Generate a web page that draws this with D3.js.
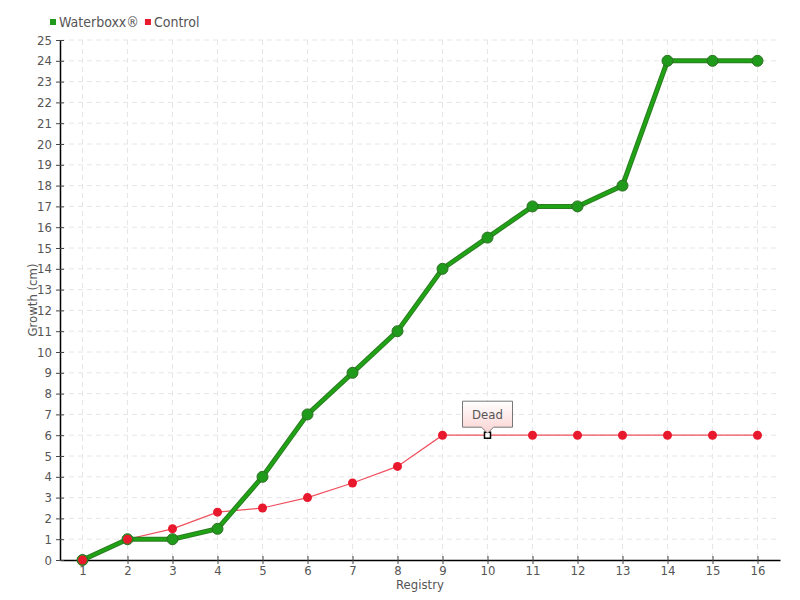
<!DOCTYPE html>
<html>
<head>
<meta charset="utf-8">
<script src="https://cdn.jsdelivr.net/npm/d3@7"></script>
<style>
  body { margin: 0; background: #fff; }
  text { font-family: "DejaVu Sans Condensed", "DejaVu Sans", sans-serif; font-stretch: condensed; fill: #555; }
</style>
</head>
<body>
<svg id="chart" width="800" height="600"></svg>
<script>
// data
var registry = [1, 2, 3, 4, 5, 6, 7, 8, 9, 10, 11, 12, 13, 14, 15, 16]
var waterboxx = [0, 1, 1, 1.5, 4, 7, 9, 11, 14, 15.5, 17, 17, 18, 24, 24, 24]
var control = [0, 1, 1.5, 2.3, 2.5, 3, 3.7, 4.5, 6, 6, 6, 6, 6, 6, 6, 6]
var yTicks = d3.range(0, 26)
var deadAt = 10

var svg = d3.select("#chart"),
    margin = { top: 40, left: 60, bottom: 40, right: 20 },
    width = +svg.attr("width"),
    height = +svg.attr("height");

var x = d3.scaleLinear()
    .domain([0.5, 16.5])
    .range([margin.left, width - margin.right])
var y = d3.scaleLinear()
    .domain([0, 25])
    .range([height - margin.bottom, margin.top])

// gridlines
svg.append("g").selectAll("line")
    .data(yTicks.slice(1))
    .enter().append("line")
    .attr("x1", margin.left).attr("x2", width - margin.right)
    .attr("y1", d => y(d)).attr("y2", d => y(d))
    .attr("stroke", "#e6e6e6").attr("stroke-dasharray", "5,4")
svg.append("g").selectAll("line")
    .data(registry)
    .enter().append("line")
    .attr("x1", d => x(d)).attr("x2", d => x(d))
    .attr("y1", margin.top).attr("y2", height - margin.bottom)
    .attr("stroke", "#e6e6e6").attr("stroke-dasharray", "5,4")

// axes
var xAxis = svg.append("g")
    .attr("transform", `translate(0,${height - margin.bottom})`)
    .call(d3.axisBottom(x).tickValues(registry).tickFormat(d3.format("d")).tickSize(4).tickPadding(2).tickSizeOuter(0))
xAxis.selectAll(".tick line").attr("y1", -4).attr("stroke", "#444")
var yAxis = svg.append("g")
    .attr("transform", `translate(${margin.left},0)`)
    .call(d3.axisLeft(y).tickValues(yTicks).tickSize(4).tickPadding(4).tickSizeOuter(0))
yAxis.selectAll(".tick line").attr("x1", 4).attr("stroke", "#444")
svg.selectAll(".domain").attr("stroke", "#000").attr("stroke-width", 1.5)
svg.selectAll(".tick text").style("font-size", "13px").style("font-family", null).attr("fill", "#555")

svg.append("text")
    .attr("x", (margin.left + width - margin.right) / 2)
    .attr("y", 589)
    .attr("text-anchor", "middle")
    .style("font-size", "13px")
    .text("Registry")
svg.append("text")
    .attr("transform", `translate(37,${(margin.top + height - margin.bottom) / 2}) rotate(-90)`)
    .attr("text-anchor", "middle")
    .style("font-size", "13px")
    .text("Growth (cm)")

var line = d3.line().x((d, i) => x(registry[i])).y(d => y(d))

// control series line (under the green one)
svg.append("path").datum(control)
    .attr("fill", "none").attr("stroke", "#f0505e").attr("stroke-width", 1.2)
    .attr("d", line)

// waterboxx series
svg.append("path").datum(waterboxx)
    .attr("fill", "none").attr("stroke", "#2b7d22").attr("stroke-width", 5)
    .attr("d", line)
svg.append("path").datum(waterboxx)
    .attr("fill", "none").attr("stroke", "#1fa315").attr("stroke-width", 3)
    .attr("d", line)
svg.append("g").selectAll("circle")
    .data(waterboxx)
    .enter().append("circle")
    .attr("cx", (d, i) => x(registry[i]))
    .attr("cy", d => y(d))
    .attr("r", 5.5)
    .attr("fill", "#1f9a1a").attr("stroke", "#2d6e24").attr("stroke-width", 1)

// control points
svg.append("g").selectAll("circle")
    .data(control.map((d, i) => ({ r: registry[i], v: d })).filter(d => d.r != deadAt))
    .enter().append("circle")
    .attr("cx", d => x(d.r))
    .attr("cy", d => y(d.v))
    .attr("r", 4.5)
    .attr("fill", "#e8192c")

// dead marker + label
var dx = x(deadAt), dy = y(control[registry.indexOf(deadAt)])
svg.append("rect")
    .attr("x", dx - 3).attr("y", dy - 3).attr("width", 6).attr("height", 6)
    .attr("fill", "#fff").attr("stroke", "#000").attr("stroke-width", 1.5)
var grad = svg.append("defs").append("linearGradient")
    .attr("id", "tip").attr("x1", 0).attr("y1", 0).attr("x2", 0).attr("y2", 1)
grad.append("stop").attr("offset", "0%").attr("stop-color", "#ffffff")
grad.append("stop").attr("offset", "100%").attr("stop-color", "#fbd2d2")
var bw = 50, bh = 26, by = dy - 34
svg.append("path")
    .attr("d", `M${dx - bw / 2},${by} h${bw} v${bh} h${-bw / 2 + 6} l-6,6 l-6,-6 h${-bw / 2 + 6} Z`)
    .attr("fill", "url(#tip)").attr("stroke", "#777").attr("stroke-width", 1)
svg.append("text")
    .attr("x", dx).attr("y", by + bh / 2 + 5)
    .attr("text-anchor", "middle")
    .style("font-size", "13px")
    .text("Dead")

// legend
var legend = [{ name: "Waterboxx®", color: "#1f9a1a" }, { name: "Control", color: "#e8192c" }]
var lx = 50
legend.forEach(function (l) {
    svg.append("rect").attr("x", lx).attr("y", 19).attr("width", 6).attr("height", 6).attr("fill", l.color)
    var t = svg.append("text").attr("x", lx + 9).attr("y", 27).style("font-size", "14px").text(l.name)
    lx += 9 + t.node().getComputedTextLength() + 6
})
</script>
</body>
</html>
